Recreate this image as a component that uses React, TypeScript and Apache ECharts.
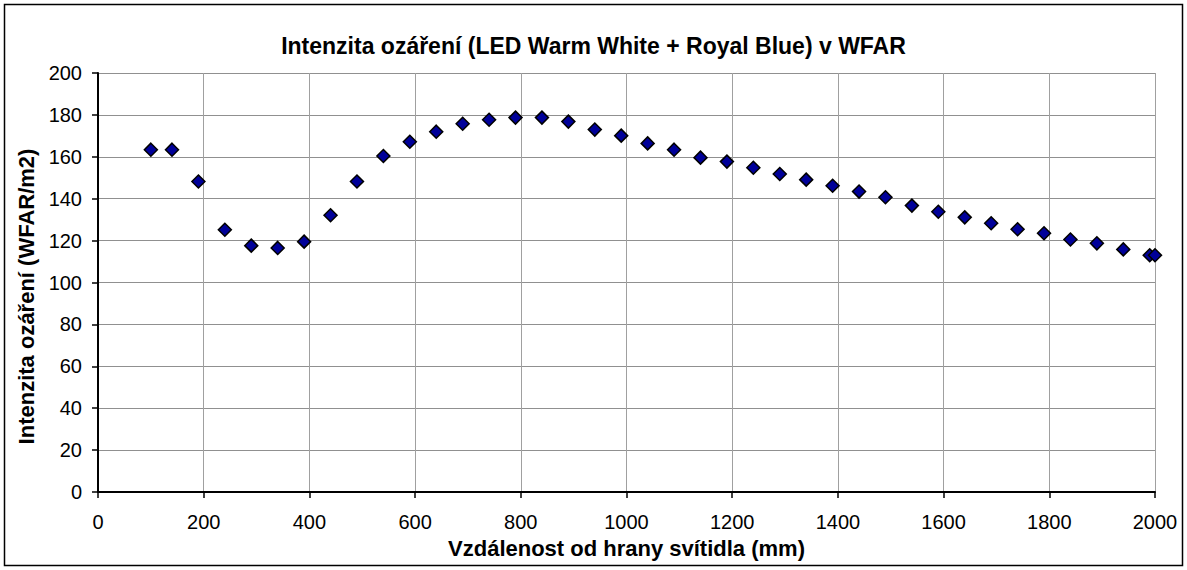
import React, { useEffect, useRef } from "react";
import * as echarts from "echarts";

const distances = [100, 140, 190, 240, 290, 340, 390, 440, 490, 540, 590, 640, 690, 740, 790, 840, 890, 940, 990, 1040, 1090, 1140, 1190, 1240, 1290, 1340, 1390, 1440, 1490, 1540, 1590, 1640, 1690, 1740, 1790, 1840, 1890, 1940, 1990, 2000];
const irradiance = [163.4, 163.4, 148.2, 125.2, 117.6, 116.5, 119.5, 132.1, 148.2, 160.4, 167.2, 172.0, 175.8, 177.7, 178.7, 178.7, 176.8, 173.0, 170.1, 166.4, 163.4, 159.6, 157.7, 154.8, 151.8, 149.1, 146.2, 143.4, 140.7, 136.7, 133.8, 131.1, 128.3, 125.4, 123.5, 120.5, 118.7, 115.8, 113.0, 113.0];

const titleText = "Intenzita ozáření (LED Warm White + Royal Blue) v WFAR";
const xAxisName = "Vzdálenost od hrany svítidla (mm)";
const yAxisName = "Intenzita ozáření (WFAR/m2)";

export default function App() {
  const ref = useRef<HTMLDivElement>(null);
  useEffect(() => {
    if (!ref.current) return;
    const chart = echarts.init(ref.current, null, { renderer: "svg" });
    const font = "Liberation Sans, Arial, sans-serif";
    chart.setOption({
      animation: false,
      backgroundColor: "#ffffff",
      title: {
        text: titleText,
        left: "center",
        top: 29,
        textStyle: { fontFamily: font, fontSize: 23, fontWeight: "bold", color: "#000" },
      },
      graphic: [
        {
          type: "rect",
          shape: { x: 4.5, y: 4.5, width: 1178, height: 561 },
          style: { fill: "none", stroke: "#000", lineWidth: 1.5 },
          silent: true,
        },
      ],
      grid: { left: 98, right: 32, top: 73, bottom: 78 },
      xAxis: {
        type: "value",
        min: 0,
        max: 2000,
        interval: 200,
        name: xAxisName,
        nameLocation: "middle",
        nameGap: 45,
        nameTextStyle: { fontFamily: font, fontSize: 22, fontWeight: "bold", color: "#000" },
        axisLine: { show: true, lineStyle: { color: "#000", width: 2 } },
        axisTick: { show: true, length: 6, lineStyle: { color: "#000", width: 1.5 } },
        axisLabel: {
          fontFamily: font,
          fontSize: 20,
          color: "#000",
          margin: 20,
          formatter: (v: number) => String(v),
        },
        splitLine: { show: true, lineStyle: { color: "#a0a0a0", width: 1 } },
      },
      yAxis: {
        type: "value",
        min: 0,
        max: 200,
        interval: 20,
        name: yAxisName,
        nameLocation: "middle",
        nameGap: 56,
        nameRotate: 90,
        nameTextStyle: {
          fontFamily: font,
          fontSize: 22,
          fontWeight: "bold",
          color: "#000",
          padding: [0, 28, 0, 0],
        },
        axisLine: { show: true, lineStyle: { color: "#000", width: 2 } },
        axisTick: { show: true, length: 6, lineStyle: { color: "#000", width: 1.5 } },
        axisLabel: { fontFamily: font, fontSize: 20, color: "#000", margin: 16 },
        splitLine: { show: true, lineStyle: { color: "#909090", width: 1 } },
      },
      series: [
        {
          type: "scatter",
          data: distances.map((d, i) => [d, irradiance[i]]),
          symbol: "diamond",
          symbolSize: 13,
          itemStyle: { color: "#000099", borderColor: "#000", borderWidth: 1.5, opacity: 1 },
        },
      ],
    });
    return () => chart.dispose();
  }, []);
  return (
    <div
      ref={ref}
      style={{ position: "absolute", left: 0, top: 0, width: 1187, height: 570 }}
    />
  );
}
